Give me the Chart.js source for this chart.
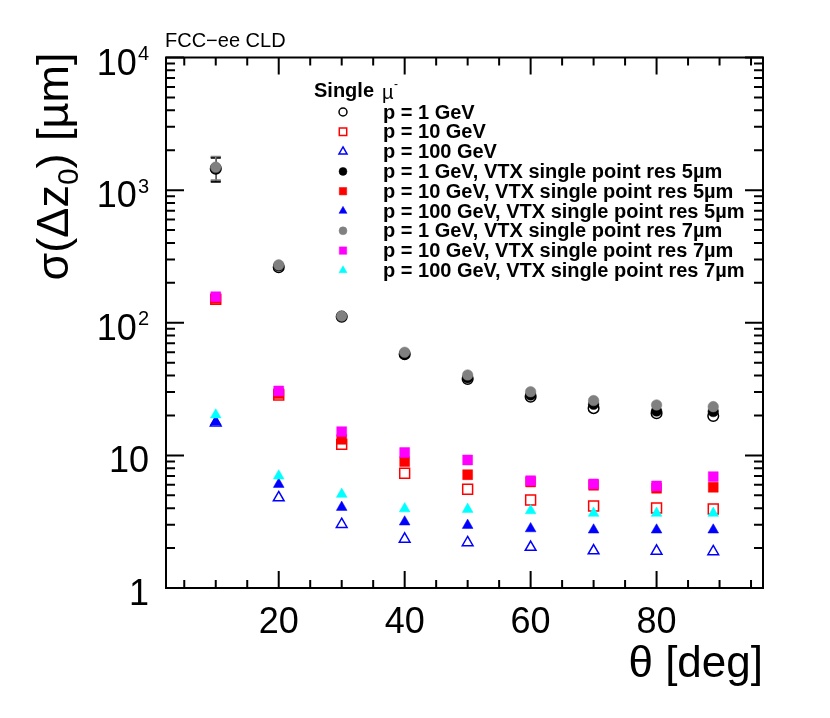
<!DOCTYPE html>
<html>
<head>
<meta charset="utf-8">
<script src="https://cdn.jsdelivr.net/npm/chart.js@4/dist/chart.umd.min.js"></script>
<style>
html,body{margin:0;padding:0;background:#fff;}
canvas{display:block;}
</style>
</head>
<body>
<canvas id="c" width="830" height="718"></canvas>
<script>
// ---- data ----
const theta = [10, 20, 30, 40, 50, 60, 70, 80, 89];

const p1     = [1450, 262, 111, 58.0, 37.7, 27.7, 22.7, 20.8, 19.8];
const p10    = [150, 28.5, 12.1, 7.33, 5.55, 4.61, 4.15, 4.01, 3.94];
const p100   = [17.6, 4.80, 3.02, 2.34, 2.20, 2.03, 1.91, 1.90, 1.88];
const p1_5   = [1470, 268, 112, 58.0, 38.5, 28.5, 24.3, 21.6, 21.4];
const p10_5  = [152, 29.3, 13.2, 8.97, 7.15, 6.30, 5.95, 5.65, 5.75];
const p100_5 = [17.9, 6.05, 4.06, 3.15, 2.97, 2.80, 2.74, 2.74, 2.74];
const p1_7   = [1490, 273, 112.5, 59.9, 40.4, 30.2, 25.9, 24.0, 23.3];
const p10_7  = [157, 30.6, 15.1, 10.5, 9.23, 6.44, 6.09, 5.88, 6.91];
const p100_7 = [20.2, 7.0, 5.09, 3.96, 3.92, 3.83, 3.66, 3.66, 3.66];

const err_p1   = [300, 0, 0, 0, 0, 0, 0, 0, 0];
const err_p1_5 = [300, 0, 0, 0, 0, 0, 0, 0, 0];
const err_p1_7 = [300, 0, 0, 0, 0, 0, 0, 0, 0];

const seriesLabels = [
  'p = 1 GeV', 'p = 10 GeV', 'p = 100 GeV',
  'p = 1 GeV, VTX single point res 5\u00b5m',
  'p = 10 GeV, VTX single point res 5\u00b5m',
  'p = 100 GeV, VTX single point res 5\u00b5m',
  'p = 1 GeV, VTX single point res 7\u00b5m',
  'p = 10 GeV, VTX single point res 7\u00b5m',
  'p = 100 GeV, VTX single point res 7\u00b5m'
];

const xMajorTicks = [20, 40, 60, 80];
const xTickLabels = ['20', '40', '60', '80'];
const yMajorTicks = [1, 10, 100, 1000, 10000];
const yTickBase   = ['1', '10', '10', '10', '10'];
const yTickExp    = ['', '', '2', '3', '4'];

const titleX = '\u03b8 [deg]';
const cornerText = 'FCC\u2212ee CLD';
// ---- end data ----

function pts(vals) { return theta.map((t, i) => ({x: t, y: vals[i]})); }

const styles = [
  {c: '#000000', s: 'circle',   fill: false, r: 5.3, order: 3},
  {c: '#ff0000', s: 'rect',     fill: false, r: 7,   order: 3},
  {c: '#0000ff', s: 'triangle', fill: false, r: 6.2, order: 3},
  {c: '#000000', s: 'circle',   fill: true,  r: 5.3, order: 2},
  {c: '#ff0000', s: 'rect',     fill: true,  r: 7,   order: 2},
  {c: '#0000ff', s: 'triangle', fill: true,  r: 6.2, order: 2},
  {c: '#808080', s: 'circle',   fill: true,  r: 5.3, order: 1},
  {c: '#ff00ff', s: 'rect',     fill: true,  r: 7,   order: 1},
  {c: '#00ffff', s: 'triangle', fill: true,  r: 6.2, order: 1}
];
const values = [p1, p10, p100, p1_5, p10_5, p100_5, p1_7, p10_7, p100_7];
const errs = [err_p1, null, null, err_p1_5, null, null, err_p1_7, null, null];

const datasets = values.map((v, i) => ({
  label: seriesLabels[i],
  data: pts(v),
  errY: errs[i],
  pointStyle: styles[i].s,
  pointRadius: styles[i].r,
  pointBackgroundColor: styles[i].fill ? styles[i].c : 'rgba(0,0,0,0)',
  pointBorderColor: styles[i].c,
  pointBorderWidth: styles[i].fill ? 0.5 : 1.5,
  borderColor: styles[i].c,
  backgroundColor: styles[i].fill ? styles[i].c : 'rgba(0,0,0,0)',
  showLine: false,
  order: styles[i].order
}));

const FONT = '"Liberation Sans", Arial, Helvetica, sans-serif';

const framePlugin = {
  id: 'frame',
  beforeDatasetsDraw(chart) {
    const {ctx, chartArea: a, scales: {x, y}} = chart;
    ctx.save();
    ctx.strokeStyle = '#000';
    ctx.lineWidth = 2;
    ctx.strokeRect(a.left, a.top, a.right - a.left, a.bottom - a.top);
    ctx.beginPath();
    for (let t = 5; t <= 95; t += 5) {
      const px = x.getPixelForValue(t);
      const len = xMajorTicks.includes(t) ? 17 : 8;
      ctx.moveTo(px, a.bottom); ctx.lineTo(px, a.bottom - len);
      ctx.moveTo(px, a.top); ctx.lineTo(px, a.top + len);
    }
    for (let d = 1; d <= 10000; d *= 10) {
      for (let m = 1; m <= 9; m++) {
        const v = d * m;
        if (v > 10000) break;
        const py = y.getPixelForValue(v);
        const len = m === 1 ? 18 : 9;
        ctx.moveTo(a.left, py); ctx.lineTo(a.left + len, py);
        ctx.moveTo(a.right, py); ctx.lineTo(a.right - len, py);
      }
    }
    ctx.stroke();

    ctx.fillStyle = '#000';
    ctx.font = '36px ' + FONT;
    ctx.textAlign = 'center';
    ctx.textBaseline = 'alphabetic';
    xMajorTicks.forEach((t, i) => {
      ctx.fillText(xTickLabels[i], x.getPixelForValue(t), 633);
    });
    const rightEdge = 149;
    yMajorTicks.forEach((v, i) => {
      const py = y.getPixelForValue(v);
      ctx.font = '20px ' + FONT;
      const ew = yTickExp[i] ? ctx.measureText(yTickExp[i]).width + 1 : 0;
      if (yTickExp[i]) {
        ctx.textAlign = 'right';
        ctx.fillText(yTickExp[i], rightEdge, py + 2.5);
      }
      ctx.font = '36px ' + FONT;
      ctx.textAlign = 'right';
      ctx.fillText(yTickBase[i], rightEdge - ew, py + 17);
    });

    ctx.font = '44px ' + FONT;
    ctx.textAlign = 'right';
    ctx.fillText(titleX, a.right, 677);

    ctx.save();
    ctx.translate(68, a.top - 5);
    ctx.rotate(-Math.PI / 2);
    const big = '45px ' + FONT, small = '30px ' + FONT;
    const parts = [
      {t: '\u03c3(\u0394z', f: big, dy: 0},
      {t: '0', f: small, dy: 10},
      {t: ') [\u00b5m]', f: big, dy: 0}
    ];
    let total = 0;
    parts.forEach(p => { ctx.font = p.f; p.w = ctx.measureText(p.t).width; total += p.w; });
    let cx = -total;
    ctx.textAlign = 'left';
    parts.forEach(p => { ctx.font = p.f; ctx.fillText(p.t, cx, p.dy); cx += p.w; });
    ctx.restore();

    ctx.font = '20px ' + FONT;
    ctx.textAlign = 'left';
    ctx.fillText(cornerText, 165, 47);
    ctx.restore();

    ctx.save();
    ctx.lineWidth = 1.5;
    chart.data.datasets.forEach((ds) => {
      if (!ds.errY) return;
      ctx.strokeStyle = ds.borderColor;
      ds.data.forEach((p, i) => {
        const e = ds.errY[i];
        if (!e) return;
        const px = x.getPixelForValue(p.x);
        const t = y.getPixelForValue(p.y + e);
        const b = y.getPixelForValue(p.y - e);
        ctx.beginPath();
        ctx.moveTo(px, t); ctx.lineTo(px, b);
        ctx.moveTo(px - 5, t); ctx.lineTo(px + 5, t);
        ctx.moveTo(px - 5, b); ctx.lineTo(px + 5, b);
        ctx.stroke();
      });
    });
    ctx.restore();
  }
};

const legendPlugin = {
  id: 'rootLegend',
  afterDatasetsDraw(chart) {
    const ctx = chart.ctx;
    ctx.save();
    ctx.fillStyle = '#000';
    ctx.textBaseline = 'middle';
    ctx.textAlign = 'left';
    ctx.font = 'bold 20px ' + FONT;
    ctx.fillText('Single', 314, 91);
    ctx.font = '20px ' + FONT;
    ctx.fillText('\u00b5', 382, 93);
    ctx.font = '12px ' + FONT;
    ctx.fillText('-', 394, 85);
    chart.data.datasets.forEach((ds, i) => {
      const yy = 112 + 19.8 * i;
      ctx.save();
      ctx.fillStyle = ds.pointBackgroundColor;
      ctx.strokeStyle = ds.pointBorderColor;
      ctx.lineWidth = ds.pointBorderWidth;
      Chart.helpers.drawPoint(ctx, {
        pointStyle: ds.pointStyle,
        radius: ds.pointRadius * 0.75,
        rotation: 0,
        borderWidth: ds.pointBorderWidth
      }, 343, yy);
      ctx.restore();
      ctx.font = 'bold 20px ' + FONT;
      ctx.fillStyle = '#000';
      ctx.fillText(ds.label, 383, yy + 1);
    });
    ctx.restore();
  }
};

new Chart(document.getElementById('c'), {
  type: 'scatter',
  data: {datasets},
  options: {
    responsive: false,
    animation: false,
    devicePixelRatio: 1,
    events: [],
    layout: {padding: {left: 166, right: 67, top: 57.5, bottom: 130}},
    scales: {
      x: {type: 'linear', min: 2.1, max: 96.9, display: false},
      y: {type: 'logarithmic', min: 1, max: 10000, display: false}
    },
    plugins: {legend: {display: false}, tooltip: {enabled: false}}
  },
  plugins: [framePlugin, legendPlugin]
});
</script>
</body>
</html>
